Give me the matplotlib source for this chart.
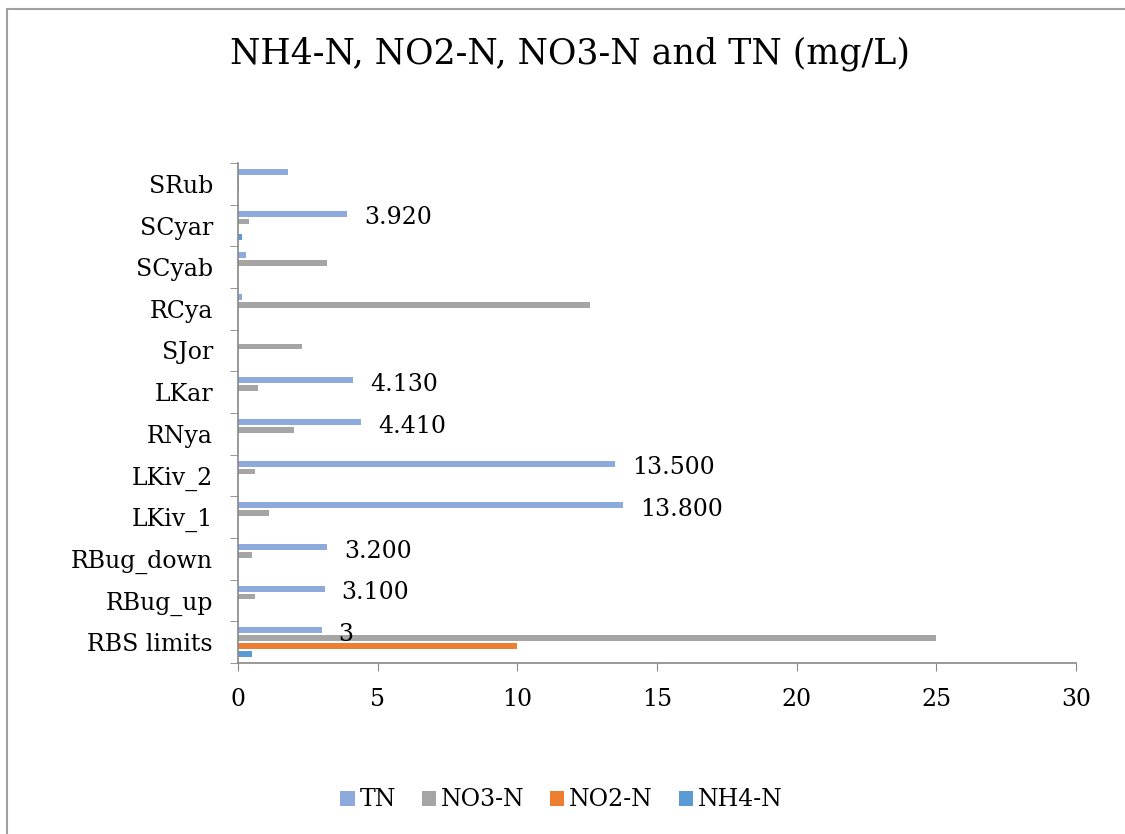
import numpy as np
import matplotlib.pyplot as plt
from matplotlib.patches import Rectangle

plt.rcParams['font.family'] = ['DejaVu Serif']

# categories from bottom to top
sites = ['RBS limits', 'RBug_up', 'RBug_down', 'LKiv_1', 'LKiv_2', 'RNya',
         'LKar', 'SJor', 'RCya', 'SCyab', 'SCyar', 'SRub']

nh4 = [0.5, 0, 0, 0, 0, 0, 0, 0, 0, 0, 0.15, 0]
no2 = [10, 0, 0, 0, 0, 0, 0, 0, 0, 0, 0, 0.05]
no3 = [25, 0.6, 0.5, 1.1, 0.6, 2.0, 0.7, 2.3, 12.6, 3.2, 0.4, 0.05]
tn = [3, 3.1, 3.2, 13.8, 13.5, 4.41, 4.13, 0, 0.15, 0.3, 3.92, 1.8]
tn_labels = ['3', '3.100', '3.200', '13.800', '13.500', '4.410', '4.130',
             '', '', '', '3.920', '']

series = [('NH4-N', nh4, '#5B9BD5'),
          ('NO2-N', no2, '#ED7D31'),
          ('NO3-N', no3, '#A5A5A5'),
          ('TN', tn, '#8EA9DB')]

fig = plt.figure(figsize=(11.25, 8.34), dpi=100)
ax = fig.add_axes([238 / 1125, 1 - 663 / 834, (1076 - 238) / 1125, 500 / 834])

# chart border (right and bottom edges fall outside the image)
fig.patches.append(Rectangle((7 / 1125, -0.1), 1.2, 1.1 - 9 / 834, transform=fig.transFigure,
                             fill=False, edgecolor='#A0A0A0', linewidth=1.5))

y = np.arange(len(sites))
step = 0.19
height = 0.14
handles = {}
for i, (name, vals, color) in enumerate(series):
    off = (i - 1.5) * step
    handles[name] = ax.barh(y + off, vals, height=height, color=color, label=name)

# data labels on TN bars
for yi, v, lab in zip(y, tn, tn_labels):
    if lab:
        ax.annotate(lab, (v, yi + 1.5 * step), xytext=(12, -3), textcoords='offset points',
                    ha='left', va='center', fontsize=17)

ax.set_xlim(0, 30)
ax.set_ylim(-0.5, len(sites) - 0.5)
ax.set_xticks(np.arange(0, 31, 5))
ax.set_yticks(y)
ax.set_yticklabels(sites)
ax.set_yticks(np.arange(-0.5, len(sites), 1), minor=True)
ax.tick_params(axis='y', which='major', length=0, pad=18, labelsize=17)
ax.tick_params(axis='y', which='minor', length=6, color='#888888', direction='out')
ax.tick_params(axis='x', length=6, color='#888888', pad=12, labelsize=17)

for s in ['top', 'right']:
    ax.spines[s].set_visible(False)
for s in ['left', 'bottom']:
    ax.spines[s].set_color('#888888')
    ax.spines[s].set_linewidth(1.2)

fig.text(0.507, 1 - 54 / 834, 'NH4-N, NO2-N, NO3-N and TN (mg/L)', ha='center', va='center',
         fontsize=25)

order = ['TN', 'NO3-N', 'NO2-N', 'NH4-N']
fig.legend([handles[k] for k in order], order, loc='center', bbox_to_anchor=(0.499, 1 - 800 / 834),
           ncol=4, frameon=False, fontsize=17, handlelength=0.6, handleheight=0.6,
           handletextpad=0.2, columnspacing=1.1)

fig.savefig('out.png', dpi=100)
